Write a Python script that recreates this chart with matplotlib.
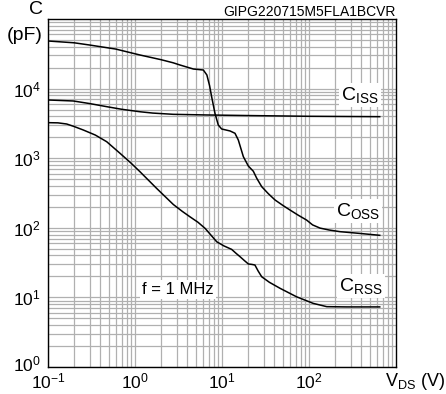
import matplotlib
matplotlib.use("Agg")
import matplotlib.pyplot as plt
import matplotlib.transforms as mtransforms

plt.rcParams["font.family"] = ["Liberation Sans", "DejaVu Sans"]
plt.rcParams["mathtext.fontset"] = "custom"
plt.rcParams["mathtext.rm"] = "Liberation Sans"

# capacitance vs drain-source voltage (V, pF)
coss_v = [0.1, 0.2, 0.3, 0.6, 1.14, 2.0, 2.74, 3.3, 4.7, 6.1, 6.7, 7.2, 7.6, 8.3, 9.06, 9.9,
          12.4, 14.1, 15.4, 17.6, 20.1, 22.9, 25.1, 28.6, 34, 40.7, 50, 60.5, 75, 94, 110,
          134, 170, 227, 385, 650]
coss_c = [48300, 45500, 42300, 37000, 30400, 26000, 23500, 21800, 19100, 18500, 15700, 11000,
          7650, 4420, 3000, 2630, 2460, 2280, 1825, 1050, 770, 650, 514, 390, 310, 251, 210,
          180, 152, 129, 110, 99, 93, 88, 83, 78]

ciss_v = [0.1, 0.195, 0.3, 0.473, 0.7, 1.14, 1.6, 2.75, 6.67, 20, 100, 650]
ciss_c = [6860, 6640, 6100, 5500, 5050, 4650, 4450, 4270, 4180, 4100, 4000, 3950]

crss_v = [0.1, 0.13, 0.164, 0.2, 0.255, 0.35, 0.473, 0.673, 0.9, 1.14, 1.77, 2.76, 3.5,
          4.28, 5.3, 6.4, 7.5, 8.7, 10.5, 12.9, 14.5, 16.1, 18, 20.1, 22, 23.9, 26, 28.6,
          35, 46.5, 72, 112, 160, 271, 650]
crss_c = [3240, 3220, 3100, 2850, 2540, 2150, 1725, 1175, 850, 640, 369, 216, 172,
          144, 120, 98, 78, 63, 55, 49, 43, 38.5, 34, 30.2, 29.8, 29.2, 24, 19.8,
          16.5, 13.5, 10.2, 8.2, 7.36, 7.3, 7.3]

x_ticks = [0.1, 1, 10, 100]
x_labels = [r"$\mathregular{10^{-1}}$", r"$\mathregular{10^{0}}$",
            r"$\mathregular{10^{1}}$", r"$\mathregular{10^{2}}$"]
y_ticks = [1, 10, 100, 1000, 10000]
y_labels = [r"$\mathregular{10^{%d}}$" % k for k in range(5)]

fig = plt.figure(figsize=(4.46, 3.94), dpi=100)
ax = fig.add_axes([48 / 446, 27 / 394, 348 / 446, 348 / 394])

ax.set_xscale("log")
ax.set_yscale("log")
ax.set_xlim(0.1, 1000)
ax.set_ylim(1, 1e5)

ax.grid(which="both", color="#b0b0b0", lw=0.9)
ax.set_axisbelow(True)

for v, c in [(coss_v, coss_c), (ciss_v, ciss_c), (crss_v, crss_c)]:
    ax.plot(v, c, color="black", lw=1.1)

ax.set_xticks(x_ticks)
ax.set_xticklabels(x_labels, fontsize=12.5)
ax.set_yticks(y_ticks)
ax.set_yticklabels(y_labels, fontsize=12.5)
ax.tick_params(which="both", length=0)
ax.tick_params(axis="x", pad=3)
ax.tick_params(axis="y", pad=5)
lab0 = ax.get_yticklabels()[0]
lab0.set_transform(lab0.get_transform() + mtransforms.ScaledTranslation(0, 4 / 100, fig.dpi_scale_trans))
for s in ax.spines.values():
    s.set_color("black")
    s.set_linewidth(1.0)

box = dict(facecolor="white", edgecolor="none", pad=1.5)
ax.text(0.897, 0.782, r"$\mathregular{C_{ISS}}$", transform=ax.transAxes,
        ha="center", va="center", fontsize=14, bbox=box)
ax.text(0.891, 0.448, r"$\mathregular{C_{OSS}}$", transform=ax.transAxes,
        ha="center", va="center", fontsize=14, bbox=box)
ax.text(0.899, 0.233, r"$\mathregular{C_{RSS}}$", transform=ax.transAxes,
        ha="center", va="center", fontsize=14, bbox=box)
ax.text(0.374, 0.224, "f = 1 MHz", transform=ax.transAxes,
        ha="center", va="center", fontsize=12, bbox=box)

fig.text(43 / 446, 1 - 9 / 394, "C", ha="right", va="center", fontsize=14)
fig.text(43 / 446, 1 - 35 / 394, "(pF)", ha="right", va="center", fontsize=14)
fig.text(396 / 446, 1 - 12 / 394, "GIPG220715M5FLA1BCVR", ha="right", va="center", fontsize=10)
fig.text(385 / 446, 1 - 382 / 394, r"$\mathregular{V_{DS}}$ (V)", ha="left", va="center", fontsize=13)

fig.savefig("out.png", dpi=100, facecolor="white")
